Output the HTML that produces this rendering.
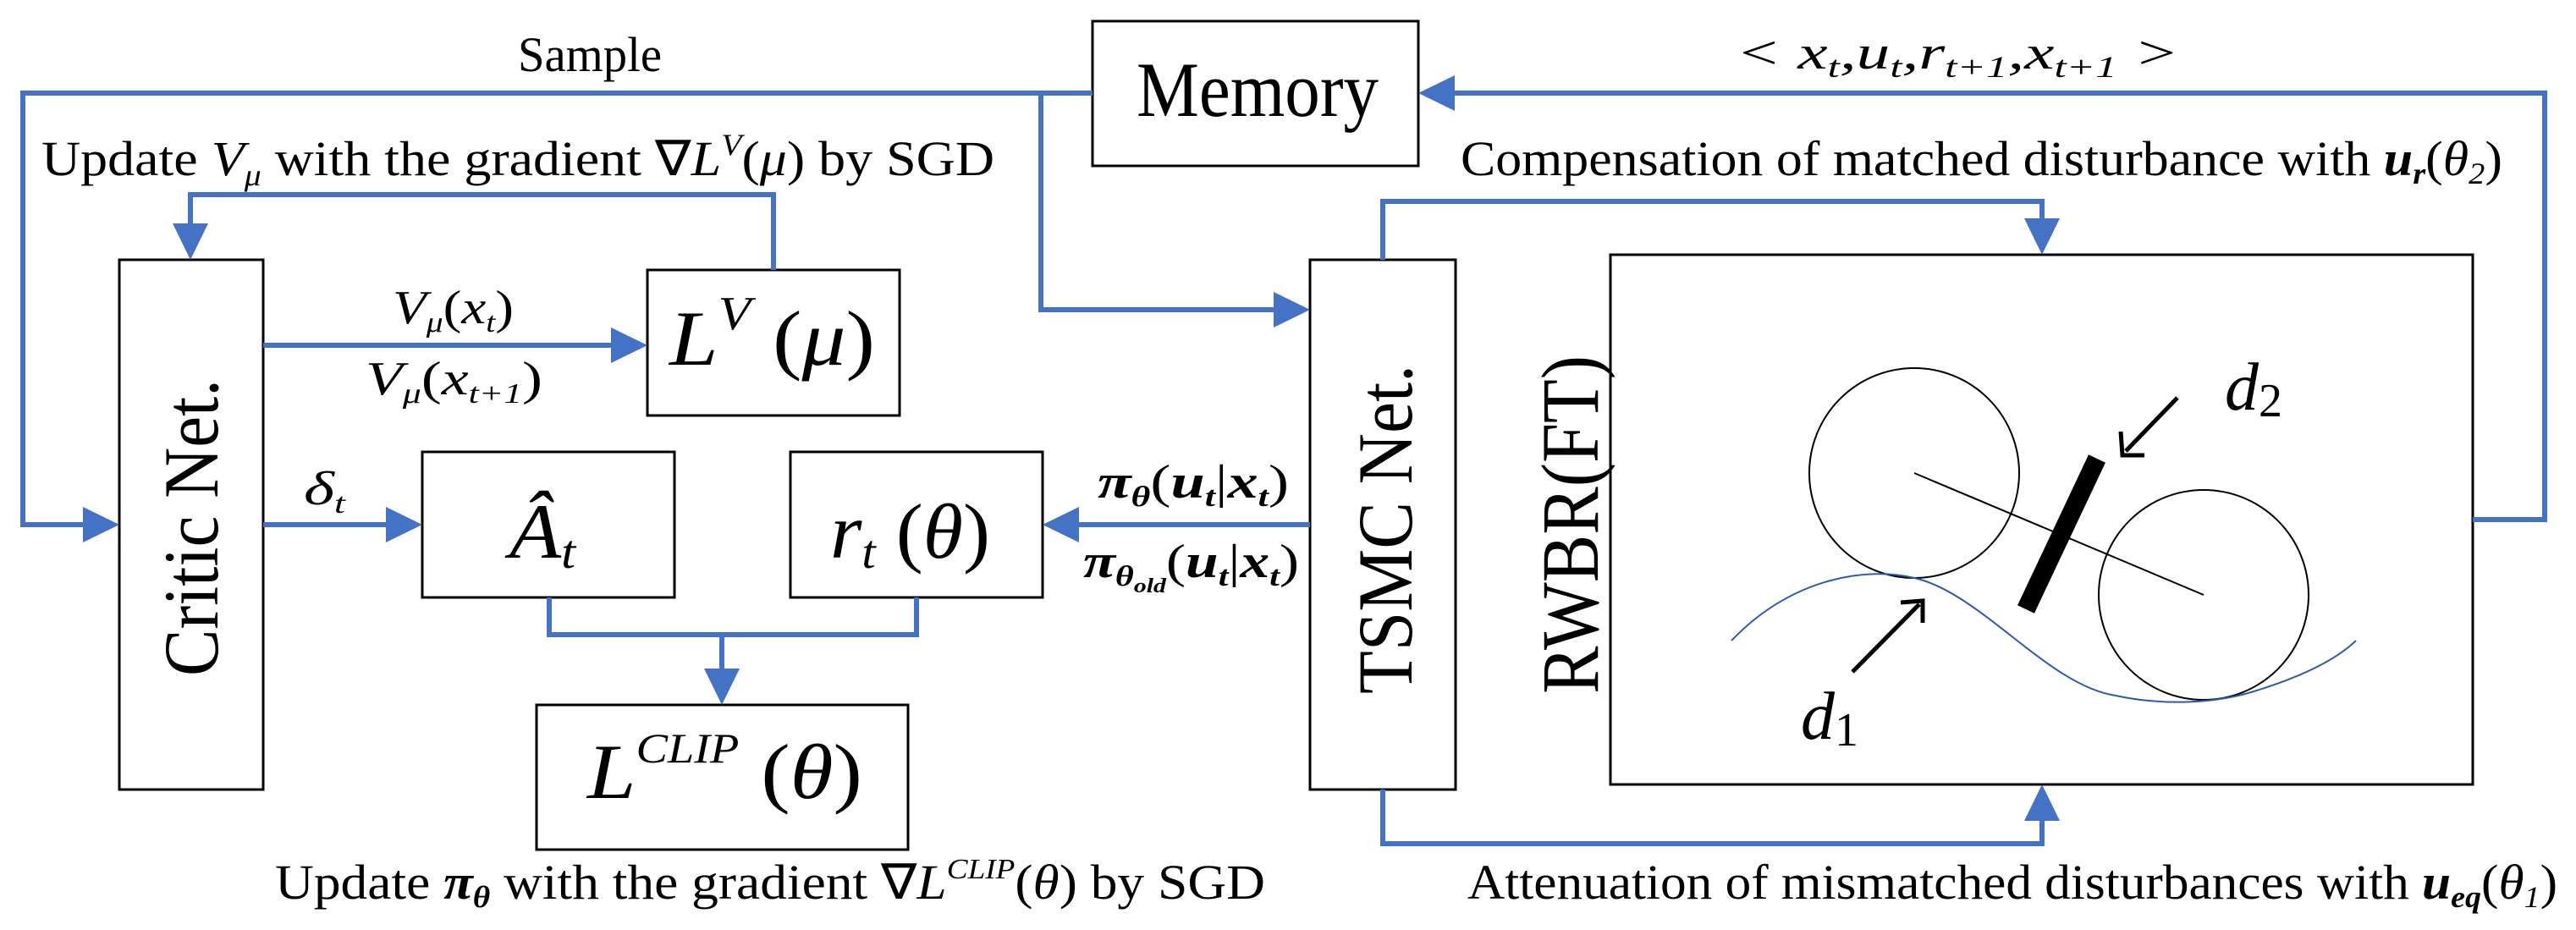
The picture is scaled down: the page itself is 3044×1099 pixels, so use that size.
<!DOCTYPE html>
<html><head><meta charset="utf-8"><style>
html,body{margin:0;padding:0;background:#fff;}
svg{display:block;}
text{font-family:"Liberation Serif",serif;fill:#000;}
.m{font-style:italic;}
.b{font-weight:bold;font-style:italic;}
</style></head><body>
<svg width="3044" height="1099" viewBox="0 0 3044 1099" xmlns="http://www.w3.org/2000/svg">
<g fill="none" stroke="#000" stroke-width="3">
<rect x="1291" y="25" width="385" height="171"/>
<rect x="141" y="307" width="170" height="626"/>
<rect x="765" y="319" width="298" height="172"/>
<rect x="499" y="534" width="298" height="172"/>
<rect x="934" y="534" width="298" height="172"/>
<rect x="634" y="833" width="439" height="171"/>
<rect x="1548" y="307" width="172" height="626"/>
<rect x="1903" y="301" width="1019" height="626"/>
</g>
<g fill="none" stroke="#4472C4" stroke-width="6">
<polyline points="1291,110 27,110 27,620 100,620"/>
<polyline points="1230,110 1230,366 1506,366"/>
<polyline points="914,319 914,230 225,230 225,265"/>
<line x1="311" y1="408" x2="722" y2="408"/>
<line x1="311" y1="620" x2="456" y2="620"/>
<line x1="1548" y1="620" x2="1275" y2="620"/>
<polyline points="649,706 649,750 1083,750 1083,706"/>
<line x1="853" y1="750" x2="853" y2="792"/>
<polyline points="2922,614 3007,614 3007,110 1719,110"/>
<polyline points="1634,307 1634,238 2413,238 2413,260"/>
<polyline points="1634,933 1634,997 2413,997 2413,968"/>
</g>
<g fill="#4472C4">
<polygon points="141,620 98,599 98,641"/>
<polygon points="1548,366 1505,345 1505,387"/>
<polygon points="225,307 204,264 246,264"/>
<polygon points="765,408 722,387 722,429"/>
<polygon points="499,620 456,599 456,641"/>
<polygon points="1232,620 1275,599 1275,641"/>
<polygon points="853,833 832,790 874,790"/>
<polygon points="1676,110 1719,89 1719,131"/>
<polygon points="2413,301 2392,258 2434,258"/>
<polygon points="2413,927 2392,970 2434,970"/>
</g>
<!-- robot -->
<circle cx="2262" cy="559" r="124" fill="none" stroke="#000" stroke-width="2"/>
<circle cx="2604" cy="703" r="124" fill="none" stroke="#000" stroke-width="2"/>
<line x1="2262" y1="559" x2="2604" y2="703" stroke="#000" stroke-width="2"/>
<line x1="2478" y1="542" x2="2394" y2="720" stroke="#000" stroke-width="22"/>
<path d="M2046,757 C2120,680 2210,670 2262,683 C2340,700 2420,810 2500,822 C2560,835 2620,830 2660,818 C2720,800 2760,780 2784,757" fill="none" stroke="#2E5BA8" stroke-width="2"/>
<g stroke="#000" stroke-width="5" fill="none">
<line x1="2573" y1="470" x2="2512" y2="533"/>
<polyline points="2506,510 2508,538 2534,538"/>
<line x1="2189" y1="794" x2="2268" y2="714"/>
<polyline points="2246,712 2272,710 2272,736"/>
</g>
<!-- texts -->
<text x="612" y="84" font-size="58" textLength="170" lengthAdjust="spacingAndGlyphs">Sample</text>
<text x="49" y="207" font-size="58" textLength="1126" lengthAdjust="spacingAndGlyphs">Update <tspan class="m">V<tspan font-size="36" dy="12">μ</tspan></tspan><tspan dy="-12"> with the gradient  ∇</tspan><tspan class="m">L<tspan font-size="36" dy="-24">V</tspan></tspan><tspan dy="24">(</tspan><tspan class="m">μ</tspan>)  by SGD</text>
<text x="1343" y="137" font-size="92" textLength="286" lengthAdjust="spacingAndGlyphs">Memory</text>
<text x="2051" y="81" font-size="56" class="m" textLength="524" lengthAdjust="spacingAndGlyphs">&lt; x<tspan font-size="36" dy="10">t</tspan><tspan dy="-10">,u</tspan><tspan font-size="36" dy="10">t</tspan><tspan dy="-10">,r</tspan><tspan font-size="36" dy="10">t+1</tspan><tspan dy="-10">,x</tspan><tspan font-size="36" dy="10">t+1</tspan><tspan dy="-10"> &gt;</tspan></text>
<text x="1726" y="207" font-size="58" textLength="1231" lengthAdjust="spacingAndGlyphs">Compensation of matched disturbance with <tspan class="b">u<tspan font-size="36" dy="10">r</tspan></tspan><tspan dy="-10">(</tspan><tspan class="m">θ<tspan font-size="36" dy="10">2</tspan></tspan><tspan dy="-10">)</tspan></text>
<text x="1734" y="1062" font-size="58" textLength="1288" lengthAdjust="spacingAndGlyphs">Attenuation of mismatched disturbances with <tspan class="b">u<tspan font-size="36" dy="10">eq</tspan></tspan><tspan dy="-10">(</tspan><tspan class="m">θ<tspan font-size="36" dy="10">1</tspan></tspan><tspan dy="-10">)</tspan></text>
<text x="325" y="1062" font-size="58" textLength="1170" lengthAdjust="spacingAndGlyphs">Update <tspan class="b">π<tspan font-size="36" dy="10">θ</tspan></tspan><tspan dy="-10"> with the gradient  ∇</tspan><tspan class="m">L<tspan font-size="34" dy="-24">CLIP</tspan></tspan><tspan dy="24">(</tspan><tspan class="m">θ</tspan>)  by SGD</text>
<text transform="translate(257,799) rotate(-90)" font-size="92" textLength="351" lengthAdjust="spacingAndGlyphs">Critic Net.</text>
<text transform="translate(1668,820) rotate(-90)" font-size="92" textLength="389" lengthAdjust="spacingAndGlyphs">TSMC Net.</text>
<text transform="translate(1888,820) rotate(-90)" font-size="96" textLength="400" lengthAdjust="spacingAndGlyphs">RWBR(FT)</text>
<text x="791" y="431" font-size="92" textLength="243" lengthAdjust="spacingAndGlyphs"><tspan class="m">L</tspan><tspan class="m" font-size="56" dy="-42">V</tspan><tspan dy="42"> (</tspan><tspan class="m">μ</tspan>)</text>
<text x="602" y="659" font-size="92" class="m" textLength="78" lengthAdjust="spacingAndGlyphs">Â<tspan font-size="56" dy="12">t</tspan></text>
<text x="981" y="659" font-size="92" textLength="189" lengthAdjust="spacingAndGlyphs"><tspan class="m">r</tspan><tspan class="m" font-size="56" dy="12">t</tspan><tspan dy="-12"> (</tspan><tspan class="m">θ</tspan>)</text>
<text x="694" y="943" font-size="92" textLength="325" lengthAdjust="spacingAndGlyphs"><tspan class="m">L</tspan><tspan class="m" font-size="50" dy="-42">CLIP</tspan><tspan dy="42"> (</tspan><tspan class="m">θ</tspan>)</text>
<text x="464" y="382" font-size="56" textLength="143" lengthAdjust="spacingAndGlyphs"><tspan class="m">V</tspan><tspan class="m" font-size="34" dy="10">μ</tspan><tspan dy="-10">(</tspan><tspan class="m">x</tspan><tspan class="m" font-size="34" dy="10">t</tspan><tspan dy="-10">)</tspan></text>
<text x="432" y="466" font-size="56" textLength="209" lengthAdjust="spacingAndGlyphs"><tspan class="m">V</tspan><tspan class="m" font-size="34" dy="10">μ</tspan><tspan dy="-10">(</tspan><tspan class="m">x</tspan><tspan class="m" font-size="34" dy="10">t+1</tspan><tspan dy="-10">)</tspan></text>
<text x="359" y="596" font-size="56" class="m" textLength="49" lengthAdjust="spacingAndGlyphs">δ<tspan font-size="34" dy="10">t</tspan></text>
<text x="1297" y="588" font-size="56" class="b" textLength="226" lengthAdjust="spacingAndGlyphs">π<tspan font-size="34" dy="10">θ</tspan><tspan dy="-10" font-weight="normal" font-style="normal">(</tspan>u<tspan font-size="34" dy="10">t</tspan><tspan dy="-10" font-weight="normal" font-style="normal">|</tspan>x<tspan font-size="34" dy="10">t</tspan><tspan dy="-10" font-weight="normal" font-style="normal">)</tspan></text>
<text x="1280" y="682" font-size="56" class="b" textLength="255" lengthAdjust="spacingAndGlyphs">π<tspan font-size="34" dy="10">θ<tspan font-size="24" dy="8">old</tspan></tspan><tspan dy="-18" font-weight="normal" font-style="normal">(</tspan>u<tspan font-size="34" dy="10">t</tspan><tspan dy="-10" font-weight="normal" font-style="normal">|</tspan>x<tspan font-size="34" dy="10">t</tspan><tspan dy="-10" font-weight="normal" font-style="normal">)</tspan></text>
<text x="2629" y="484" font-size="80" class="m">d<tspan font-style="normal" font-size="56" dy="8">2</tspan></text>
<text x="2128" y="873" font-size="80" class="m">d<tspan font-style="normal" font-size="56" dy="8">1</tspan></text>
</svg>
</body></html>
